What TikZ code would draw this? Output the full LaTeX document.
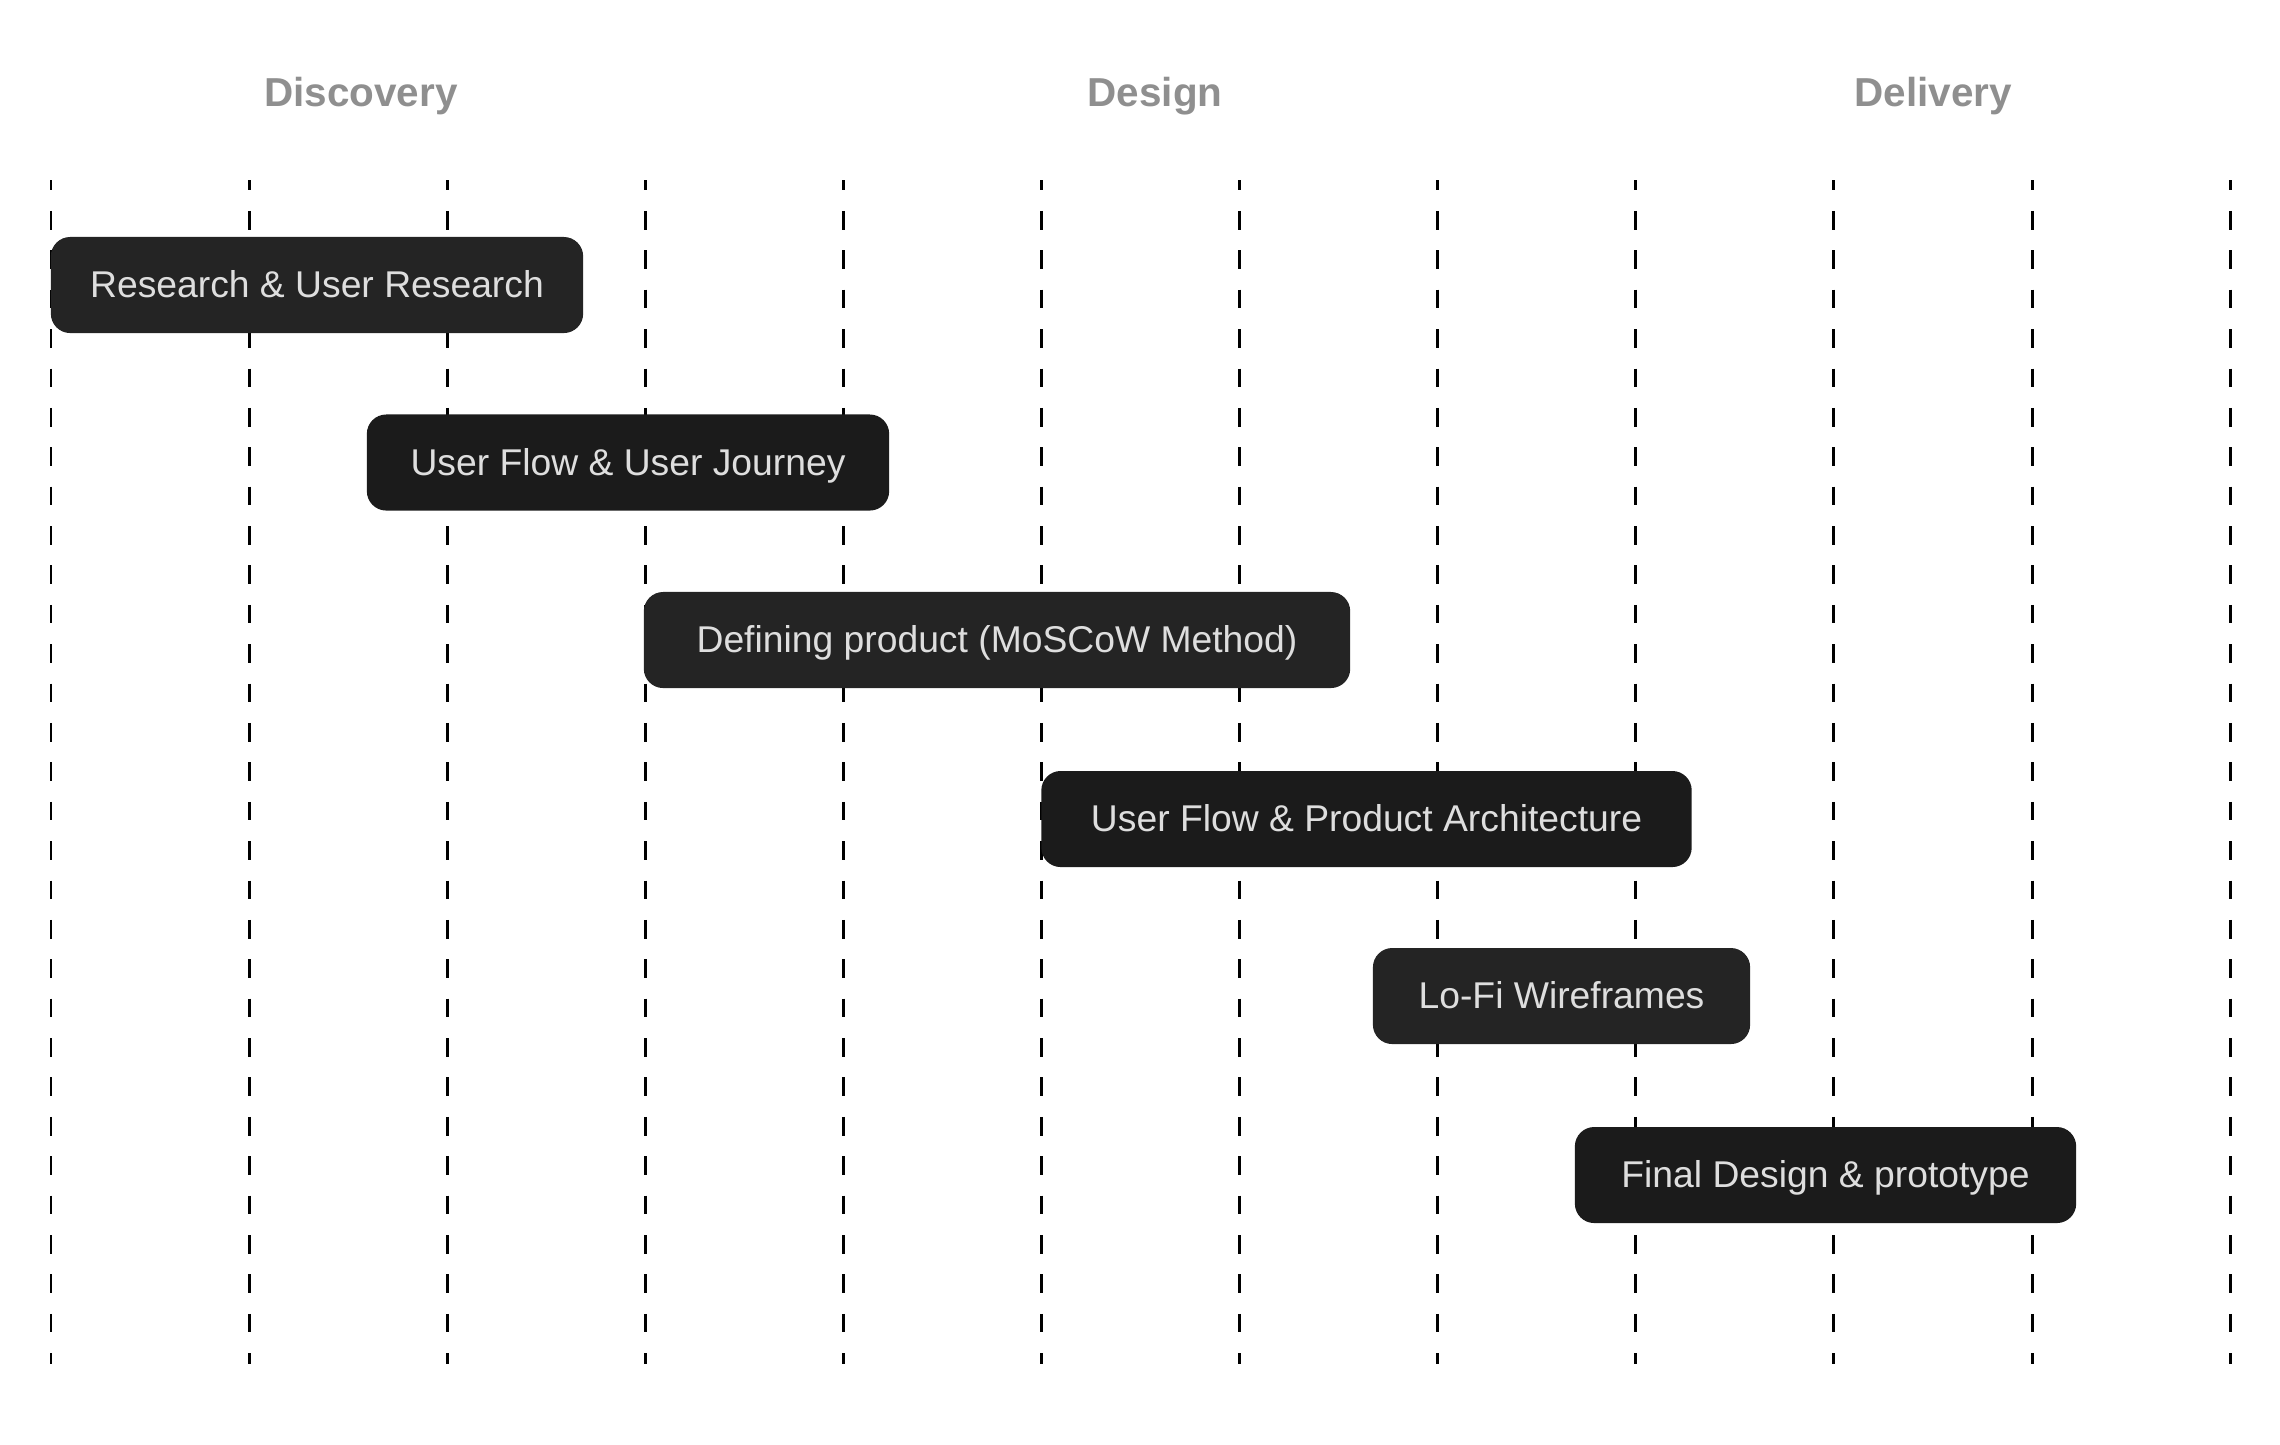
\documentclass[tikz,border=0pt]{standalone}
\usepackage{fontspec}
\setmainfont{Liberation Sans}
\usepackage{xcolor}
\usetikzlibrary{positioning}

\definecolor{barlight}{HTML}{242424}
\definecolor{bardark}{HTML}{1B1B1B}
\definecolor{bartext}{HTML}{DEDEDE}
\definecolor{phasegray}{HTML}{8F8F8F}

\begin{document}
\begin{tikzpicture}[x=0.01cm, y=-0.01cm,
    phase/.style={text=phasegray, font=\fontsize{11.5}{13}\selectfont\bfseries},
    bar/.style={rounded corners=5.5pt, text=bartext, minimum height=0.96cm,
        inner sep=0pt, text height=0.72em, text depth=0pt, font=\fontsize{10.6}{12}\selectfont},
    gridline/.style={line width=0.85pt, dash pattern=on 5.3pt off 5.9pt, dash phase=2.4pt}]
    \useasboundingbox (0,0) rectangle (2280,1444);

    % columns
    \foreach \i in {0,...,11}
        \draw[gridline] (51+198.1*\i,180) -- (51+198.1*\i,1364);

    % phases
    \node[phase] (discovery) at (361,96) {Discovery};
    \node[phase] (design) at (1155,96) {Design};
    \node[phase] (delivery) at (1933,96) {Delivery};

    % tasks
    \node[bar, fill=barlight, minimum width=5.32cm] (research) at (317,285) {Research \& User Research};
    \node[bar, fill=bardark, minimum width=5.22cm] (journey) at (628,462.5) {User Flow \& User Journey};
    \node[bar, fill=barlight, minimum width=7.06cm] (defining) at (997,640) {Defining product (MoSCoW Method)};
    \node[bar, fill=bardark, minimum width=6.50cm] (architecture) at (1366.5,819) {User Flow \& Product Architecture};
    \node[bar, fill=barlight, minimum width=3.77cm] (wireframes) at (1561.5,996) {Lo-Fi Wireframes};
    \node[bar, fill=bardark, minimum width=5.01cm] (prototype) at (1825.5,1175) {Final Design \& prototype};
\end{tikzpicture}
\end{document}
